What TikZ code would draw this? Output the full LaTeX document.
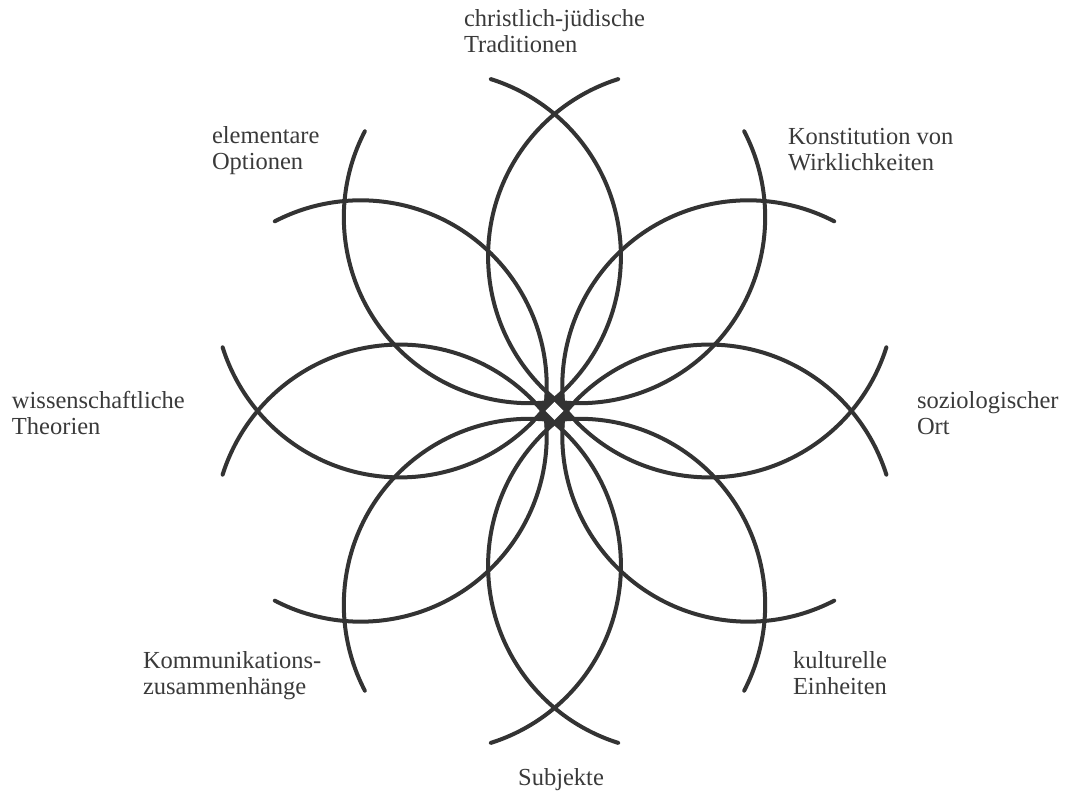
\documentclass[tikz,border=0pt]{standalone}
\usepackage{fontspec}
\setmainfont{Liberation Serif}
\usetikzlibrary{calc}
\definecolor{ink}{HTML}{333333}
\definecolor{txt}{HTML}{3A3A3A}
\tikzset{
  petal/.style={draw=ink, line width=4pt, line cap=round},
  lbl/.style={inner sep=0pt, outer sep=0pt, text=txt, align=left,
    font=\fontsize{24.5pt}{26.5pt}\selectfont, anchor=base west}
}
\begin{document}
\begin{tikzpicture}[x=1pt,y=1pt]
\useasboundingbox (0,0) rectangle (1065,794);
\coordinate (C) at (554.5,383);
\def\R{186}
\def\th{50}
\def\ep{22.5}
\def\epin{4}
\def\mid{154.5}
\def\dd{119.6}
\foreach \p in {0,45,...,315} {
  \draw[petal] ($(C)+(\p:\mid)+(\p-90:\dd)$) ++(\p+90+\th+\epin:\R)
     arc[start angle=\p+90+\th+\epin, end angle=\p+90-\th-\ep, radius=\R];
  \draw[petal] ($(C)+(\p:\mid)+(\p+90:\dd)$) ++(\p-90-\th-\epin:\R)
     arc[start angle=\p-90-\th-\epin, end angle=\p-90+\th+\ep, radius=\R];
}
\fill[ink] ($(C)+(0:14)$)
  \foreach \a in {22.5,67.5,...,337.5} { -- ($(C)+(\a:25)$) -- ($(C)+(\a+22.5:14)$) } -- cycle;
\fill[white] ($(C)+(0,9)$) -- ($(C)+(9,0)$) -- ($(C)+(0,-9)$) -- ($(C)+(-9,0)$) -- cycle;
\node[lbl] (trad) at (464,741) {christlich-jüdische\\Traditionen};
\node[lbl] (opt) at (212,624) {elementare\\Optionen};
\node[lbl] (konst) at (788,623) {Konstitution von\\Wirklichkeiten};
\node[lbl] (wiss) at (12,359) {wissenschaftliche\\Theorien};
\node[lbl] (sozi) at (917,359) {soziologischer\\Ort};
\node[lbl] (komm) at (143,99) {Kommunikations-\\zusammenhänge};
\node[lbl] (kult) at (793,99) {kulturelle\\Einheiten};
\node[lbl, anchor=base] (subj) at (561,8) {Subjekte};
\end{tikzpicture}
\end{document}
